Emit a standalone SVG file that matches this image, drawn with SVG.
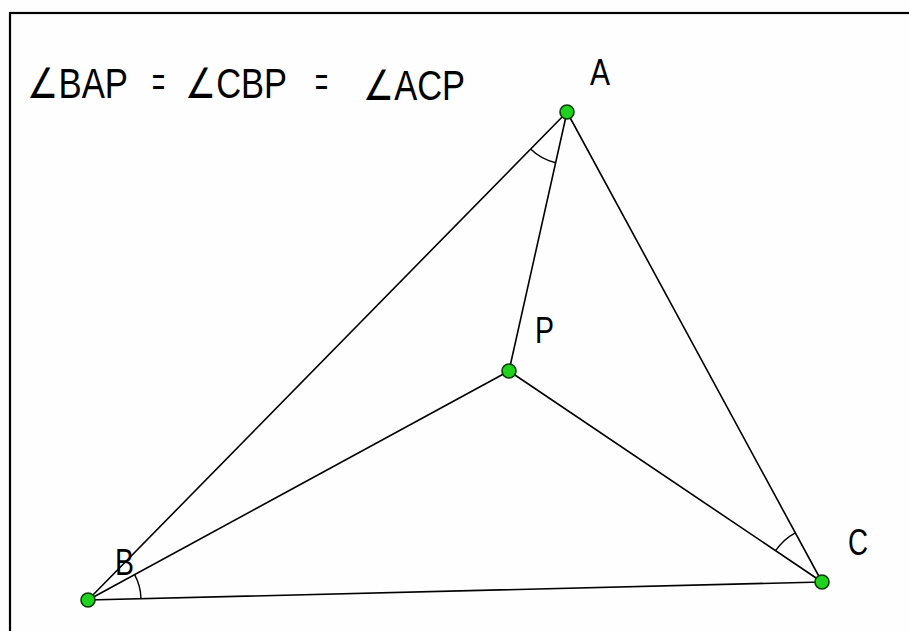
<svg xmlns="http://www.w3.org/2000/svg" width="909" height="631" viewBox="0 0 909 631">
<style>
.edge{stroke:#000;stroke-width:1.6;fill:none;stroke-linecap:round}
.mark{stroke:#000;stroke-width:1.4;fill:none}
.pt{fill:#1ed21e;stroke:#0a3a0a;stroke-width:1.6}
.lbl{font-family:"Liberation Sans",Arial,sans-serif;font-size:36px;fill:#000;font-weight:normal}
.ttl{font-size:42px}
</style>
<rect x="0" y="0" width="909" height="631" fill="#fefefe"/>
<rect x="10" y="13" width="920" height="640" fill="none" stroke="#000" stroke-width="2.2"/>
<g id="title">
<text class="lbl ttl" x="27" y="98" textLength="101" lengthAdjust="spacingAndGlyphs">∠BAP</text>
<text class="lbl ttl" x="152" y="96" textLength="13" lengthAdjust="spacingAndGlyphs">=</text>
<text class="lbl ttl" x="185" y="98" textLength="102" lengthAdjust="spacingAndGlyphs">∠CBP</text>
<text class="lbl ttl" x="315" y="96" textLength="13" lengthAdjust="spacingAndGlyphs">=</text>
<text class="lbl ttl" x="363" y="100" textLength="102" lengthAdjust="spacingAndGlyphs">∠ACP</text>
</g>
<g id="connectors">
<line class="edge" x1="567" y1="112" x2="88" y2="600"/>
<line class="edge" x1="567" y1="112" x2="822" y2="582"/>
<line class="edge" x1="88" y1="600" x2="822" y2="582"/>
<line class="edge" x1="567" y1="112" x2="509" y2="371"/>
<line class="edge" x1="88" y1="600" x2="509" y2="371"/>
<line class="edge" x1="822" y1="582" x2="509" y2="371"/>
</g>
<g id="angle-marks">
<path class="mark" d="M530.6,149.1 A52,52 0 0 0 555.6,162.7"/>
<path class="mark" d="M141,598.7 A53,53 0 0 0 134.6,574.7"/>
<path class="mark" d="M775.6,550.7 A56,56 0 0 1 795.3,532.8"/>
</g>
<g id="node-A">
<circle class="pt" cx="567" cy="112" r="7"/>
<text class="lbl" x="590" y="85" textLength="20" lengthAdjust="spacingAndGlyphs">A</text>
</g>
<g id="node-P">
<circle class="pt" cx="509" cy="371" r="7"/>
<text class="lbl" x="535" y="343" textLength="19" lengthAdjust="spacingAndGlyphs">P</text>
</g>
<g id="node-B">
<circle class="pt" cx="88" cy="600" r="7"/>
<text class="lbl" x="115" y="575" textLength="19" lengthAdjust="spacingAndGlyphs">B</text>
</g>
<g id="node-C">
<circle class="pt" cx="822" cy="582" r="7"/>
<text class="lbl" x="848" y="555" textLength="20" lengthAdjust="spacingAndGlyphs">C</text>
</g>
</svg>
